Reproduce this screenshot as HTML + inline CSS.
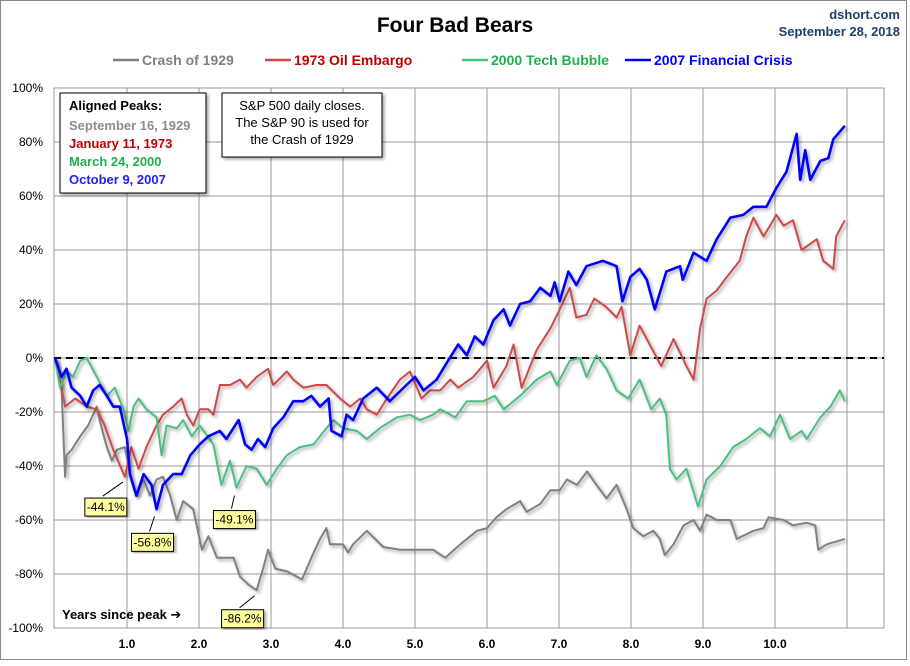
<!DOCTYPE html>
<html><head><meta charset="utf-8"><style>
html,body{margin:0;padding:0;background:#fff;}
svg text{font-family:"Liberation Sans","DejaVu Sans",sans-serif;}
</style></head><body>
<svg id="chart" width="910" height="661" viewBox="0 0 910 661">
<defs>
<filter id="sh" x="-5%" y="-5%" width="115%" height="115%"><feDropShadow dx="2" dy="2" stdDeviation="1.5" flood-color="#000" flood-opacity="0.35"/></filter>
</defs>
<rect x="0.5" y="0.5" width="906" height="659" fill="#fff" stroke="#888"/>
<text x="455" y="32" text-anchor="middle" font-size="21" font-weight="bold" fill="#000">Four Bad Bears</text>
<text x="900" y="19" text-anchor="end" font-size="13" font-weight="bold" fill="#1f3f6f">dshort.com</text>
<text x="900" y="36" text-anchor="end" font-size="13" font-weight="bold" fill="#1f3f6f">September 28, 2018</text>
<g id="legend"></g>
<g id="grid"></g>
<g id="series"></g>
<g id="annot"></g>
<g>
<rect x="60" y="93" width="146" height="100" fill="#fff" stroke="#000" filter="url(#sh)"/>
<text x="69" y="110" font-size="13" font-weight="bold" fill="#000">Aligned Peaks:</text>
<text x="69" y="130" font-size="13" font-weight="bold" fill="#8c8c8c">September 16, 1929</text>
<text x="69" y="148" font-size="13" font-weight="bold" fill="#c00000">January 11, 1973</text>
<text x="69" y="166" font-size="13" font-weight="bold" fill="#20b050">March 24, 2000</text>
<text x="69" y="184" font-size="13" font-weight="bold" fill="#2020ff">October 9, 2007</text>
</g>
<g>
<rect x="222" y="93" width="160" height="64" fill="#fff" stroke="#000" filter="url(#sh)"/>
<text x="302" y="110" text-anchor="middle" font-size="13" fill="#000">S&amp;P 500 daily closes.</text>
<text x="302" y="127" text-anchor="middle" font-size="13" fill="#000">The S&amp;P 90 is used for</text>
<text x="302" y="144" text-anchor="middle" font-size="13" fill="#000">the Crash of 1929</text>
</g>
<text x="62" y="619" font-size="13" font-weight="bold" fill="#000">Years since peak ➔</text>
</svg>
<script>
const yearTicks=[1,2,3,4,5,6,7,8,9,10];
const pctTicks=[100,80,60,40,20,0,-20,-40,-60,-80,-100];
const t1929=[0,0.09,0.14,0.16,0.23,0.35,0.46,0.58,0.62,0.72,0.79,0.86,0.97,1.06,1.13,1.23,1.32,1.41,1.5,1.6,1.69,1.78,1.92,2.04,2.13,2.25,2.38,2.48,2.57,2.69,2.8,2.89,2.96,3.06,3.22,3.43,3.56,3.68,3.77,3.82,4.0,4.07,4.14,4.33,4.56,4.79,5.02,5.25,5.42,5.63,5.86,6.0,6.13,6.27,6.46,6.55,6.74,6.88,7.01,7.11,7.25,7.39,7.52,7.66,7.8,7.94,8.03,8.17,8.31,8.4,8.47,8.59,8.73,8.87,8.96,9.05,9.19,9.38,9.47,9.7,9.84,9.91,10.12,10.25,10.44,10.56,10.6,10.72,10.97];
const v1929=[0,-11,-44,-36,-34,-29,-25,-18,-23,-33,-38,-34,-33,-45,-51,-45,-51,-45,-44,-51,-60,-53,-56,-71,-66,-74,-74,-74,-81,-84,-86,-78,-71,-78,-79,-82,-74,-67,-63,-69,-69,-72,-69,-64,-70,-71,-71,-71,-74,-69,-64,-63,-59,-56,-53,-57,-54,-49,-49,-45,-47,-42,-47,-52,-47,-56,-63,-66,-64,-67,-73,-69,-62,-60,-64,-58,-60,-60,-67,-64,-63,-59,-60,-62,-61,-62,-71,-69,-67];
const t1973=[0,0.09,0.14,0.28,0.44,0.58,0.69,0.81,0.97,1.06,1.16,1.27,1.41,1.5,1.64,1.76,1.83,1.92,2.01,2.13,2.2,2.29,2.43,2.57,2.66,2.8,2.96,3.03,3.22,3.31,3.45,3.63,3.77,3.96,4.1,4.24,4.33,4.47,4.61,4.79,4.93,5.09,5.21,5.35,5.49,5.6,5.81,6.0,6.09,6.27,6.37,6.48,6.69,6.88,7.01,7.15,7.24,7.38,7.49,7.65,7.8,7.87,7.99,8.12,8.26,8.42,8.59,8.77,8.87,8.96,9.05,9.19,9.33,9.51,9.6,9.7,9.84,10.02,10.12,10.25,10.37,10.58,10.67,10.81,10.85,10.97];
const v1973=[0,-11,-18,-15,-18,-19,-25,-34,-44,-33,-41,-33,-25,-21,-18,-15,-21,-25,-19,-19,-21,-10,-10,-8,-11,-7,-4,-10,-5,-8,-11,-10,-10,-15,-18,-15,-19,-21,-15,-8,-5,-15,-12,-12,-8,-11,-7,-1,-11,-3,5,-11,3,11,18,26,15,16,22,19,15,19,1,12,5,-3,7,-3,-8,11,22,25,30,36,45,52,45,53,49,51,40,44,36,33,45,51];
const t2000=[0,0.07,0.16,0.25,0.35,0.44,0.58,0.72,0.83,0.95,1.02,1.09,1.16,1.27,1.41,1.48,1.55,1.69,1.78,1.9,2.01,2.2,2.31,2.43,2.52,2.66,2.8,2.94,3.08,3.22,3.4,3.59,3.77,3.87,4.0,4.19,4.33,4.51,4.75,4.93,5.07,5.25,5.35,5.56,5.72,5.95,6.11,6.23,6.46,6.69,6.88,6.97,7.15,7.29,7.38,7.52,7.66,7.8,7.96,8.12,8.28,8.4,8.49,8.54,8.63,8.77,8.93,9.05,9.24,9.42,9.6,9.79,9.93,10.07,10.21,10.37,10.44,10.63,10.77,10.9,10.97];
const v2000=[0,-11,-5,-7,-1,0,-7,-14,-11,-19,-27,-18,-15,-19,-22,-36,-25,-26,-23,-29,-25,-32,-47,-38,-48,-40,-41,-47,-41,-36,-33,-32,-26,-23,-26,-27,-30,-26,-22,-21,-23,-21,-19,-22,-16,-16,-14,-19,-14,-8,-5,-10,-1,0,-7,1,-4,-12,-15,-8,-19,-15,-21,-41,-45,-41,-55,-45,-40,-33,-30,-26,-29,-21,-30,-27,-30,-22,-18,-12,-16];
const t2007=[0,0.09,0.16,0.23,0.35,0.44,0.53,0.62,0.72,0.81,0.9,1.0,1.04,1.13,1.23,1.34,1.41,1.5,1.64,1.76,1.88,2.01,2.13,2.29,2.38,2.55,2.64,2.73,2.82,2.92,3.03,3.17,3.31,3.45,3.56,3.68,3.8,3.84,3.98,4.05,4.14,4.28,4.47,4.65,4.88,5.0,5.12,5.3,5.46,5.6,5.72,5.83,5.95,6.09,6.23,6.32,6.46,6.6,6.74,6.88,6.94,7.01,7.13,7.24,7.38,7.61,7.8,7.88,7.99,8.12,8.22,8.33,8.49,8.68,8.72,8.87,9.05,9.19,9.38,9.56,9.7,9.88,10.02,10.16,10.3,10.35,10.42,10.49,10.63,10.74,10.81,10.97];
const v2007=[0,-7,-4,-11,-14,-18,-12,-10,-14,-18,-18,-30,-43,-51,-43,-47,-56,-47,-43,-43,-36,-32,-29,-27,-30,-23,-32,-34,-30,-33,-26,-22,-16,-16,-14,-18,-15,-27,-29,-21,-23,-15,-11,-16,-10,-7,-12,-8,-1,5,1,8,5,14,18,12,20,21,26,23,28,21,32,27,34,36,34,21,30,33,29,18,32,34,29,39,36,44,52,53,56,56,63,69,83,66,77,66,73,74,81,86];
const seriesNames=["Crash of 1929","1973 Oil Embargo","2000 Tech Bubble","2007 Financial Crisis"];
const annYears=[0.97,1.41,2.52,2.8];
const annValues=[-44.1,-56.8,-49.1,-86.2];

const NS="http://www.w3.org/2000/svg";
const X0=55,XPY=72,Y0=358,YPP=2.7,PL=54,PR=884,PT=88,PB=628;
const xs=t=>X0+t*XPY, ys=v=>Y0-v*YPP;
function mk(tag,attrs,parent){const e=document.createElementNS(NS,tag);for(const k in attrs)e.setAttribute(k,attrs[k]);parent.appendChild(e);return e;}
const grid=document.getElementById('grid');
pctTicks.forEach(p=>{
 const l=mk('line',{x1:PL,x2:PR,y1:ys(p),y2:ys(p),stroke:'#999','stroke-width':1},grid);
 
 
 const t=mk('text',{x:43,y:ys(p)+4,'text-anchor':'end','font-size':12,fill:'#000'},grid);
 t.textContent=p+'%';
 
 
});
yearTicks.concat([11]).forEach(y=>{
 const l=mk('line',{x1:xs(y),x2:xs(y),y1:PT,y2:PB,stroke:'#999','stroke-width':1},grid);
 
 
});
yearTicks.forEach(y=>{
 const t=mk('text',{x:xs(y),y:648,'text-anchor':'middle','font-size':12,'font-weight':'bold',fill:'#000'},grid);
 t.textContent=y.toFixed(1);
 
 
});
const frame=mk('rect',{x:PL,y:PT,width:PR-PL,height:PB-PT,fill:'none',stroke:'#999'},grid);


const zl=mk('line',{x1:PL,x2:PR,y1:ys(0),y2:ys(0),stroke:'#000','stroke-width':2,'stroke-dasharray':'7,5'},grid);



const ser=document.getElementById('series');
const defs=[[t1929,v1929,'#808080',2,'line-1929'],[t1973,v1973,'#d04848',2,'line-1973'],[t2000,v2000,'#48c080',2,'line-2000'],[t2007,v2007,'#0000ff',2.6,'line-2007']];
defs.forEach(d=>{
 const pts=d[0].map((t,i)=>xs(t).toFixed(1)+','+ys(d[1][i]).toFixed(1)).join(' ');
 const p=mk('polyline',{points:pts,fill:'none',stroke:d[2],'stroke-width':d[3],'stroke-linejoin':'round',filter:'url(#sh)'},ser);
 
 
});

const leg=document.getElementById('legend');
const legX=[113,265,462,625],legC=['#808080','#d04848','#48c080','#0000ff'],legT=['#808080','#c00000','#20b050','#0000ff'];
seriesNames.forEach((n,i)=>{
 const l=mk('line',{x1:legX[i],x2:legX[i]+26,y1:60,y2:60,stroke:legC[i],'stroke-width':2.5},leg);
 
 
 const t=mk('text',{x:legX[i]+29,y:65,'font-size':14,'font-weight':'bold',fill:legT[i]},leg);
 t.textContent=n;
 
 
});

const ann=document.getElementById('annot');
const boxOff=[[-40,21],[-25,22],[-23,20],[-35,19]];
annYears.forEach((y,i)=>{
 const px=xs(y),py=ys(annValues[i]);
 const bx=px+boxOff[i][0],by=py+boxOff[i][1];
 const l=mk('line',{x1:px-2,y1:py+5,x2:bx+18,y2:by-2,stroke:'#000','stroke-width':1},ann);
 
 
 const r=mk('rect',{x:bx,y:by,width:42,height:18,fill:'#ffffa0',stroke:'#000',filter:'url(#sh)'},ann);
 
 
 const t=mk('text',{x:bx+21,y:by+13,'text-anchor':'middle','font-size':12,fill:'#000'},ann);
 t.textContent=annValues[i].toFixed(1)+'%';
 
 
});
</script>
</body></html>
